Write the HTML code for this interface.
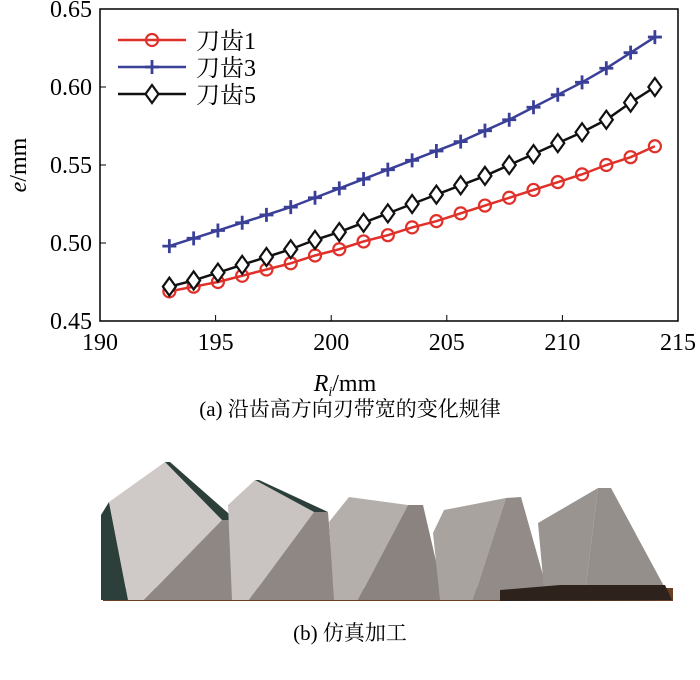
<!DOCTYPE html>
<html><head><meta charset="utf-8"><style>
body{margin:0;background:#fff;width:700px;height:675px;overflow:hidden}
svg text{font-family:"Liberation Serif","Noto Serif CJK SC",serif}
</style></head><body>
<svg id="chart" width="700" height="675" viewBox="0 0 700 675" xmlns="http://www.w3.org/2000/svg">
<rect x="100" y="9" width="578" height="312" fill="none" stroke="#000" stroke-width="1.5"/>
<g id="ticks"></g>
<g id="series"></g>
<text transform="translate(26,165) rotate(-90)" text-anchor="middle" font-size="24"><tspan font-style="italic">e</tspan>/mm</text>
<text x="345" y="391" text-anchor="middle" font-size="24"><tspan font-style="italic">R</tspan><tspan font-style="italic" font-size="14" dy="5">i</tspan><tspan dy="-5">/mm</tspan></text>
<text x="350" y="416" text-anchor="middle" font-size="21">(a) 沿齿高方向刃带宽的变化规律</text>
<g id="legend"></g>
<g>
<rect x="103" y="588" width="570" height="13" fill="#6b3f22"/>
<polygon points="101,515 109,502 128,600 101,600" fill="#2c3f3a"/>
<polygon points="109,502 165,462 222,520 144,600 128,600" fill="#cfcac8"/>
<polygon points="165,462 170,462 236,520 222,520" fill="#2c3f3a"/>
<polygon points="222,520 236,520 240,600 144,600" fill="#8e8784"/>
<polygon points="228,505 255,480 314,512 249,600 232,600" fill="#c9c3c1"/>
<polygon points="255,480 259,480 328,512 314,512" fill="#2c3f3a"/>
<polygon points="314,512 328,512 335,600 249,600" fill="#8e8784"/>
<polygon points="329,522 349,497 408,505 358,600 334,600" fill="#b5afac"/>
<polygon points="408,505 423,505 445,600 358,600" fill="#8a8380"/>
<polygon points="433,533 444,510 506,498 473,600 440,600" fill="#a9a3a0"/>
<polygon points="506,498 521,497 550,600 473,600" fill="#928b88"/>
<polygon points="538,523 598,488 584,600 545,600" fill="#9a9491"/>
<polygon points="598,488 611,488 665,588 584,600" fill="#958f8b"/>
<polygon points="500,590 560,585 665,585 672,600 500,601" fill="#2d231c"/>
</g>
<text x="350" y="640" text-anchor="middle" font-size="21">(b) 仿真加工</text>
</svg>
<script>
const xValues=[193,194.05,195.1,196.15,197.2,198.25,199.3,200.35,201.4,202.45,203.5,204.55,205.6,206.65,207.7,208.75,209.8,210.85,211.9,212.95,214];
const tooth1=[0.469,0.472,0.475,0.479,0.483,0.487,0.492,0.496,0.501,0.505,0.510,0.514,0.519,0.524,0.529,0.534,0.539,0.544,0.550,0.555,0.562];
const tooth3=[0.498,0.503,0.508,0.513,0.518,0.523,0.529,0.535,0.541,0.547,0.553,0.559,0.565,0.572,0.579,0.587,0.595,0.603,0.612,0.622,0.632];
const tooth5=[0.472,0.476,0.481,0.486,0.491,0.496,0.502,0.507,0.513,0.519,0.525,0.531,0.537,0.543,0.550,0.557,0.564,0.571,0.579,0.590,0.600];
const xTicks=[190,195,200,205,210,215];
const yTicks=[0.45,0.50,0.55,0.60,0.65];
const yTickLabels=["0.45","0.50","0.55","0.60","0.65"];
const seriesNames=["刀齿1","刀齿3","刀齿5"];
const NS="http://www.w3.org/2000/svg";
const sx=v=>100+(v-190)*578/25;
const sy=v=>321-(v-0.45)*312/0.2;
function mk(tag,attrs,parent){const e=document.createElementNS(NS,tag);for(const k in attrs)e.setAttribute(k,attrs[k]);parent.appendChild(e);return e;}
const tk=document.getElementById('ticks');
xTicks.forEach(t=>{
 const l=mk('line',{x1:sx(t),x2:sx(t),y1:321,y2:315,stroke:'#000','stroke-width':1},tk);
 
 
 const tx=mk('text',{x:sx(t),y:350,'text-anchor':'middle','font-size':24},tk);tx.textContent=t;
 
 
});
yTicks.forEach((t,i)=>{
 const l=mk('line',{x1:100,x2:106,y1:sy(t),y2:sy(t),stroke:'#000','stroke-width':1},tk);
 
 
 const tx=mk('text',{x:92,y:sy(t)+8,'text-anchor':'end','font-size':24},tk);tx.textContent=yTickLabels[i];
 
 
});
const colors=['#e0302a','#3a3f98','#111'];
const kinds=['circle','plus','diamond'];
function marker(g,x,y,k,c){
 if(k==='circle')mk('circle',{cx:x,cy:y,r:6,fill:'none',stroke:c,'stroke-width':2.2},g);
 else if(k==='plus'){mk('path',{d:`M${x-7},${y}H${x+7}M${x},${y-7}V${y+7}`,stroke:c,'stroke-width':2.8,fill:'none'},g);}
 else mk('path',{d:`M${x},${y-9}L${x+6.5},${y}L${x},${y+9}L${x-6.5},${y}Z`,fill:'#fff',stroke:c,'stroke-width':2.2},g);
}
const sg=document.getElementById('series');
[tooth1,tooth3,tooth5].forEach((arr,si)=>{
 const g=mk('g',{},sg);
 
 
 mk('polyline',{points:arr.map((v,i)=>sx(xValues[i])+','+sy(v)).join(' '),fill:'none',stroke:colors[si],'stroke-width':2.5},g);
 arr.forEach((v,i)=>marker(g,sx(xValues[i]),sy(v),kinds[si],colors[si]));
});
const lg=document.getElementById('legend');
seriesNames.forEach((n,i)=>{
 const y=40+i*27;
 const e=mk('g',{},lg);
 
 
 mk('line',{x1:118,x2:186,y1:y,y2:y,stroke:colors[i],'stroke-width':2.5},e);
 marker(e,152,y,kinds[i],colors[i]);
 const t=mk('text',{x:196,y:y+9,'font-size':24},e);t.textContent=n;
});
</script>
</body></html>
